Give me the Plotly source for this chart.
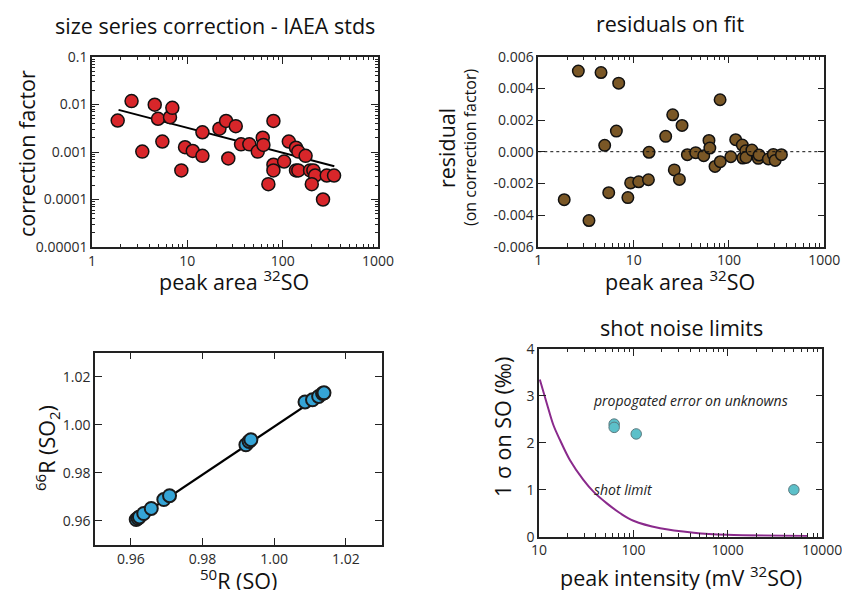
import plotly.graph_objects as go

# ---------------- data ----------------
# panel 1: size series correction
p1_x = [1.86, 2.6, 3.37, 4.55, 4.93, 5.47, 6.58, 6.96, 8.65, 9.46, 11.4, 14.4, 14.4, 21.7,
        25.5, 26.9, 32.2, 36.6, 44.7, 54.8, 61.8, 62.8, 80, 80, 80, 70.8, 103.5, 116, 138,
        146, 174, 138, 146, 194, 210, 219, 202, 290, 346, 265]
p1_y = [0.0046, 0.0118, 0.00102, 0.0099, 0.005, 0.00166, 0.0054, 0.0085, 0.00041, 0.00126,
        0.00105, 0.0026, 0.00083, 0.0031, 0.0045, 0.00073, 0.0035, 0.00145, 0.00145, 0.00102,
        0.002, 0.00141, 0.0045, 0.00054, 0.00041, 0.00021, 0.00063, 0.00166, 0.00123, 0.00102,
        0.00083, 0.00041, 0.00041, 0.00041, 0.00041, 0.00032, 0.00021, 0.00032, 0.00032, 0.0001]
p1_fit_x = [1.9, 348]
p1_fit_y = [0.0077, 0.0005]

# panel 2: residuals
p2_x = [1.87, 2.63, 3.4, 4.55, 4.97, 5.48, 6.59, 6.97, 8.7, 9.3, 11.3, 14.3, 14.5, 21.7,
        25.7, 26.7, 30.2, 32.2, 36.6, 44.8, 54.4, 61.7, 63, 71.4, 80.7, 81, 104.5, 117.6,
        138, 139.6, 150, 151, 174, 203, 207, 259, 292, 305, 355]
p2_y = [-0.00303, 0.00509, -0.00435, 0.0050, 0.0004, -0.00259, 0.0013, 0.00433, -0.0029,
        -0.00197, -0.0019, -0.00177, -0.00004, 0.00097, 0.00233, -0.00115, -0.00175, 0.00166,
        -0.00019, -0.00006, -0.00025, 0.00071, 0.00023, -0.00093, 0.00328, -0.00063, -0.00032,
        0.00076, 0.00042, -0.0004, 0.00006, -0.00036, 0.0001, -0.00042, -0.00021, -0.00046,
        -0.00017, -0.00055, -0.00019]

# panel 3: 66R vs 50R
p3_x = [0.9615, 0.9620, 0.9624, 0.9636, 0.9657, 0.9692, 0.9708, 0.9921, 0.9930, 0.9935,
        1.0086, 1.0107, 1.0124, 1.0135, 1.0139]
p3_y = [0.9606, 0.9611, 0.9617, 0.9631, 0.9652, 0.9689, 0.9705, 0.9917, 0.9931, 0.9938,
        1.0095, 1.0104, 1.0118, 1.0130, 1.0133]
p3_fit_x = [0.961, 1.0144]
p3_fit_y = [0.9603, 1.0136]

# panel 4: shot noise limits
p4_x = [62.5, 62.5, 107, 5000]
p4_y = [2.40, 2.33, 2.19, 1.0]
shot_x = [10.2, 12.1, 14.2, 16.7, 21.3, 29.5, 37.7, 52.3, 72.4, 100, 192, 435, 980, 6900]
shot_y = [3.35, 2.84, 2.38, 2.06, 1.63, 1.21, 0.96, 0.71, 0.50, 0.34, 0.18, 0.085, 0.04, 0.015]

# tick labels
log_x_vals = [1, 10, 100, 1000]
log_x_text = ["1", "10", "100", "1000"]
p1_y_vals = [0.00001, 0.0001, 0.001, 0.01, 0.1]
p1_y_text = ["0.00001", "0.0001", "0.001", "0.01", "0.1"]
p2_y_vals = [-0.006, -0.004, -0.002, 0, 0.002, 0.004, 0.006]
p2_y_text = ["-0.006", "-0.004", "-0.002", "0.000", "0.002", "0.004", "0.006"]
p3_vals = [0.96, 0.98, 1.00, 1.02]
p3_text = ["0.96", "0.98", "1.00", "1.02"]
p4_x_vals = [10, 100, 1000, 10000]
p4_x_text = ["10", "100", "1000", "10000"]
p4_y_vals = [0, 1, 2, 3, 4]
p4_y_text = ["0", "1", "2", "3", "4"]

# ---------------- figure ----------------
W, H = 842, 590
FONT = "Open Sans"
TICKC = "#2a2a2a"
AX = "#222222"


def px(x):
    return x / W


def py(y):
    return 1 - y / H


fig = go.Figure()

fig.add_trace(go.Scatter(x=p1_fit_x, y=p1_fit_y, mode="lines", line=dict(color="black", width=2),
                         xaxis="x", yaxis="y", showlegend=False))
fig.add_trace(go.Scatter(x=p1_x, y=p1_y, mode="markers",
                         marker=dict(size=13, color="#d8262a", line=dict(color="#111", width=1.5)),
                         xaxis="x", yaxis="y", showlegend=False))

fig.add_trace(go.Scatter(x=p2_x, y=p2_y, mode="markers",
                         marker=dict(size=11.5, color="#7a5726", line=dict(color="#111", width=1.5)),
                         xaxis="x2", yaxis="y2", showlegend=False))

fig.add_trace(go.Scatter(x=p3_fit_x, y=p3_fit_y, mode="lines", line=dict(color="black", width=2.2),
                         xaxis="x3", yaxis="y3", showlegend=False))
fig.add_trace(go.Scatter(x=p3_x, y=p3_y, mode="markers",
                         marker=dict(size=13, color="#35a4d6", line=dict(color="#1a1a1a", width=2)),
                         xaxis="x3", yaxis="y3", showlegend=False))

fig.add_trace(go.Scatter(x=shot_x, y=shot_y, mode="lines", line=dict(color="#8a2a8c", width=2, shape="spline"),
                         xaxis="x4", yaxis="y4", showlegend=False))
fig.add_trace(go.Scatter(x=p4_x, y=p4_y, mode="markers",
                         marker=dict(size=10.5, color="#5cc0c9", line=dict(color="#5a7a80", width=1)),
                         xaxis="x4", yaxis="y4", showlegend=False))

tickfont = dict(family=FONT, size=14, color=TICKC)
common = dict(showline=True, linecolor=AX, linewidth=1.5, mirror="ticks", ticks="inside",
              ticklen=7, tickwidth=1.2, tickcolor=AX, showgrid=False, zeroline=False,
              tickfont=tickfont, tickmode="array", automargin=False, ticklabeloverflow="allow")
minor_log = dict(ticks="inside", ticklen=3.5, tickwidth=1, tickcolor=AX, dtick="D1", showgrid=False)

fig.update_layout(
    template="none",
    width=W, height=H, margin=dict(l=0, r=0, t=0, b=0, pad=0),
    paper_bgcolor="white", plot_bgcolor="white",
    font=dict(family=FONT, color="#111"),
    xaxis=dict(common, type="log", range=[0, 3], tickvals=log_x_vals, ticktext=log_x_text,
               minor=minor_log, domain=[px(92), px(378)], anchor="y"),
    yaxis=dict(common, type="log", range=[-5, -1], tickvals=p1_y_vals, ticktext=p1_y_text,
               minor=minor_log, domain=[py(247), py(57)], anchor="x"),
    xaxis2=dict(common, type="log", range=[0, 3], tickvals=log_x_vals, ticktext=log_x_text,
                minor=minor_log, domain=[px(538.3), px(824.3)], anchor="y2"),
    yaxis2=dict(common, range=[-0.006, 0.006], tickvals=p2_y_vals, ticktext=p2_y_text,
                domain=[py(246.7), py(56.7)], anchor="x2"),
    xaxis3=dict(common, range=[0.95, 1.03], tickvals=p3_vals, ticktext=p3_text,
                domain=[px(95), px(381.7)], anchor="y3"),
    yaxis3=dict(common, range=[0.95, 1.03], tickvals=p3_vals, ticktext=p3_text,
                domain=[py(545), py(352.7)], anchor="x3"),
    xaxis4=dict(common, type="log", range=[1, 4], tickvals=p4_x_vals, ticktext=p4_x_text,
                minor=minor_log, domain=[px(539), px(822.3)], anchor="y4"),
    yaxis4=dict(common, range=[0, 4], tickvals=p4_y_vals, ticktext=p4_y_text,
                domain=[py(536.7), py(349)], anchor="x4"),
)

fig.add_shape(type="line", xref="x2 domain", yref="y2", x0=0, x1=1, y0=0, y1=0,
              line=dict(color="#111", width=1, dash="dot"))


def ann(text, x, y, size, angle=0, italic=False, color="#111"):
    fig.add_annotation(text=text, x=px(x), y=py(y), xref="paper", yref="paper",
                       showarrow=False, textangle=angle, xanchor="center", yanchor="middle",
                       font=dict(family=FONT, size=size, color=color,
                                 style="italic" if italic else "normal"))


# panel titles
ann("size series correction - IAEA stds", 215, 25, 21.5)
ann("residuals on fit", 669.5, 23, 21.5)
ann("shot noise limits", 681, 327, 21.5)

# axis titles
ann("correction factor", 26, 154, 21.5, angle=-90)
ann("peak area <sup>32</sup>SO", 234, 281, 21.5)
ann("residual", 446, 148, 21.5, angle=-90)
ann("(on correction factor)", 470, 148, 16, angle=-90)
ann("peak area <sup>32</sup>SO", 680, 281, 21.5)
ann("<sup>66</sup>R (SO<sub>2</sub>)", 47, 448, 21.5, angle=-90)
ann("<sup>50</sup>R (SO)", 238, 579, 21.5)
ann("1 σ on SO (‰)", 502, 427, 21.5, angle=-90)
ann("peak intensity (mV <sup>32</sup>SO)", 681, 576, 21.5)

# in-plot labels
ann("propogated error on unknowns", 690, 400, 14, italic=True, color="#222")
ann("shot limit", 623, 489, 14, italic=True, color="#222")

fig.write_html("out.html", config={"displayModeBar": False},
               post_script="document.body.style.margin='0';document.body.style.overflow='hidden';")
